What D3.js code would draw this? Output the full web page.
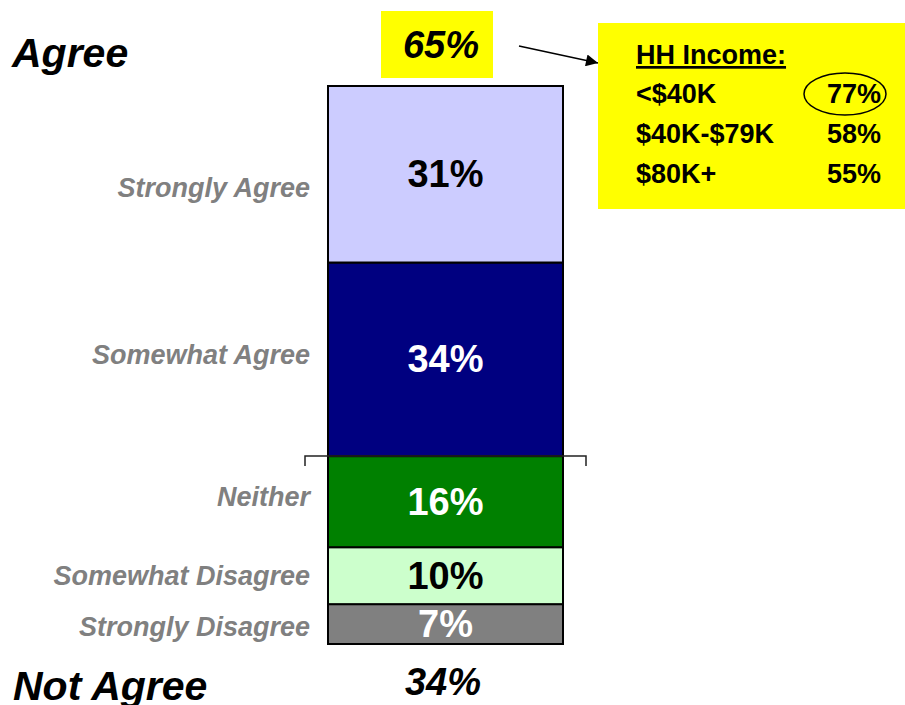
<!DOCTYPE html>
<html>
<head>
<meta charset="utf-8">
<script src="https://cdn.jsdelivr.net/npm/d3@7"></script>
<style>
  body { margin: 0; background: #fff; }
  svg text { font-family: Arial, "Liberation Sans", sans-serif; font-weight: bold; }
</style>
</head>
<body>
<script>
// stacked from the bottom up
var categories = ["Strongly Disagree", "Somewhat Disagree", "Neither", "Somewhat Agree", "Strongly Agree"];
var values = [7, 10, 16, 34, 31];
var agreeTotal = 65;
var notAgreeTotal = 34;
var incomeGroups = ["<$40K", "$40K-$79K", "$80K+"];
var incomeValues = [77, 58, 55];

var window_w = 905, window_h = 705;
var bar = {left: 328, right: 563, top: 86, bottom: 644};

var svg = d3.select("body").append("svg")
    .attr("width", window_w)
    .attr("height", window_h);

var yScale = d3.scaleLinear()
    .domain([0, d3.sum(values)])
    .range([bar.bottom, bar.top]);

var fill = d3.scaleOrdinal()
    .domain(categories)
    .range(["#808080", "#ccffcc", "#008000", "#000080", "#ccccff"]);
var ink = d3.scaleOrdinal()
    .domain(categories)
    .range(["#fff", "#000", "#fff", "#fff", "#000"]);

// cumulative stack
var acc = 0;
var stack = categories.map(function(c, i) {
    var d = {cat: c, v: values[i], y0: acc, y1: acc + values[i]};
    acc += values[i];
    return d;
});

var cx = (bar.left + bar.right) / 2;

var segs = svg.append("g").selectAll("g").data(stack).enter().append("g");

segs.append("rect")
    .attr("x", bar.left)
    .attr("width", bar.right - bar.left)
    .attr("y", d => yScale(d.y1))
    .attr("height", d => yScale(d.y0) - yScale(d.y1))
    .attr("fill", d => fill(d.cat))
    .attr("stroke", "#000")
    .attr("stroke-width", 2);

segs.append("text")
    .attr("x", cx)
    .attr("y", d => (yScale(d.y0) + yScale(d.y1)) / 2 + 13)
    .attr("text-anchor", "middle")
    .attr("font-size", 38)
    .attr("fill", d => ink(d.cat))
    .text(d => d.v + "%");

segs.append("text")
    .attr("x", 310)
    .attr("y", function(d) {
        var m = (yScale(d.y0) + yScale(d.y1)) / 2 + 9;
        if (d.cat == "Strongly Agree") return m + 14;
        if (d.cat == "Neither") return m - 5;
        if (d.cat == "Strongly Disagree") return m + 3;
        if (d.cat == "Somewhat Agree") return m - 4;
        return m;
    })
    .attr("text-anchor", "end")
    .attr("font-size", 27)
    .attr("font-style", "italic")
    .attr("fill", "#808080")
    .text(d => d.cat);

// bracket between agree and the rest
var yb = yScale(values[0] + values[1] + values[2]);
svg.append("path")
    .attr("d", "M305," + (yb + 10) + "V" + yb + "H586V" + (yb + 10))
    .attr("fill", "none")
    .attr("stroke", "#222")
    .attr("stroke-width", 1.5);

// group headings
svg.append("text").attr("x", 12).attr("y", 67)
    .attr("font-size", 41).attr("font-style", "italic").text("Agree");
svg.append("text").attr("x", 13).attr("y", 700)
    .attr("font-size", 41).attr("font-style", "italic").text("Not Agree");

svg.append("rect").attr("x", 381).attr("y", 11).attr("width", 112).attr("height", 67)
    .attr("fill", "#ffff00");
svg.append("text").attr("x", 441).attr("y", 58).attr("text-anchor", "middle")
    .attr("font-size", 38).attr("font-style", "italic").text(agreeTotal + "%");
svg.append("text").attr("x", 443).attr("y", 695).attr("text-anchor", "middle")
    .attr("font-size", 38).attr("font-style", "italic").text(notAgreeTotal + "%");

// arrow to income box
svg.append("defs").append("marker")
    .attr("id", "arr").attr("viewBox", "0 0 10 10")
    .attr("refX", 10).attr("refY", 5)
    .attr("markerWidth", 16).attr("markerHeight", 12)
    .attr("markerUnits", "userSpaceOnUse")
    .attr("orient", "auto")
    .append("path").attr("d", "M0,0L10,5L0,10z").attr("fill", "#000");
svg.append("line")
    .attr("x1", 519).attr("y1", 46).attr("x2", 598).attr("y2", 63)
    .attr("stroke", "#000").attr("stroke-width", 1.5)
    .attr("marker-end", "url(#arr)");

// income box
svg.append("rect").attr("x", 598).attr("y", 23).attr("width", 310).attr("height", 186)
    .attr("fill", "#ffff00");
svg.append("text").attr("x", 636).attr("y", 64).attr("font-size", 27)
    .attr("text-decoration", "underline").text("HH Income:");

var rowY = d3.scalePoint().domain(incomeGroups).range([103, 183]);
var rows = svg.append("g").selectAll("g").data(incomeGroups).enter().append("g");
rows.append("text").attr("x", 636).attr("y", d => rowY(d)).attr("font-size", 27).text(d => d);
rows.append("text").attr("x", 881).attr("y", d => rowY(d)).attr("font-size", 27)
    .attr("text-anchor", "end").text((d, i) => incomeValues[i] + "%");

svg.append("ellipse")
    .attr("cx", 845).attr("cy", rowY(incomeGroups[0]) - 9)
    .attr("rx", 41).attr("ry", 21)
    .attr("fill", "none").attr("stroke", "#000").attr("stroke-width", 1.5);
</script>
</body>
</html>
